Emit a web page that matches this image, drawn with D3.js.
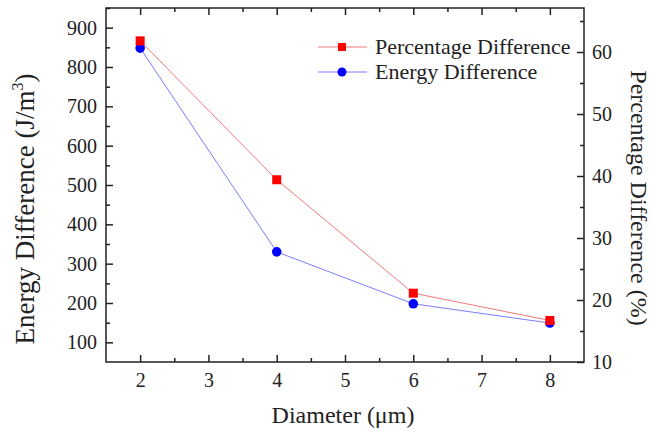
<!DOCTYPE html>
<meta charset="utf-8">
<style>
    body { margin: 0; background: #fff; }
    svg text { font-family: "Times New Roman", "Liberation Serif", Tinos, "DejaVu Serif", serif !important; fill: #222; }
    .tick text { font-size: 20px; }
    .axis path, .axis line { stroke: #222; stroke-width: 1.5px; }
    .title { font-size: 24px; }
    .legend text { font-size: 22px; }
</style>
<svg width="652" height="435" font-family="Liberation Serif"></svg>
<script src="https://d3js.org/d3.v7.min.js"></script>
<script>
    // data
    var diameter = [2, 4, 6, 8];
    var energyDiff = [848, 330, 198, 149];
    var percentDiff = [61.8, 39.4, 21.1, 16.7];

    var xTicks = [2, 3, 4, 5, 6, 7, 8];
    var yTicks = [100, 200, 300, 400, 500, 600, 700, 800, 900];
    var y2Ticks = [10, 20, 30, 40, 50, 60];

    var svg = d3.select("svg");
    var pLeft = 106, pRight = 584, pTop = 8, pBottom = 362;

    var x = d3.scaleLinear().domain([1.5, 8.5]).range([pLeft, pRight]);
    var y = d3.scaleLinear().domain([50, 950]).range([pBottom, pTop]);
    var y2 = d3.scaleLinear().domain([10, 67.1]).range([pBottom, pTop]);
    var fmt = d3.format("d");

    // ticks only, no labels
    function minor(g, axis) {
        g.call(axis).select(".domain").remove();
        g.selectAll("text").remove();
    }
    function noDomain(g) {
        g.select(".domain").remove();
        g.attr("font-family", null).attr("font-size", null);
    }

    // bottom
    svg.append("g").attr("class", "axis").attr("transform", "translate(0," + pBottom + ")")
        .call(d3.axisBottom(x).tickValues(xTicks).tickFormat(fmt).tickSizeInner(-7).tickSizeOuter(0).tickPadding(11))
        .call(noDomain);
    svg.append("g").attr("class", "axis").attr("transform", "translate(0," + pBottom + ")")
        .call(minor, d3.axisBottom(x).tickValues([2.5, 3.5, 4.5, 5.5, 6.5, 7.5]).tickSize(-4));
    // top
    svg.append("g").attr("class", "axis").attr("transform", "translate(0," + pTop + ")")
        .call(minor, d3.axisTop(x).tickValues(xTicks).tickSize(-7));
    svg.append("g").attr("class", "axis").attr("transform", "translate(0," + pTop + ")")
        .call(minor, d3.axisTop(x).tickValues([2.5, 3.5, 4.5, 5.5, 6.5, 7.5]).tickSize(-4));
    // left
    svg.append("g").attr("class", "axis").attr("transform", "translate(" + pLeft + ",0)")
        .call(d3.axisLeft(y).tickValues(yTicks).tickFormat(fmt).tickSizeInner(-7).tickSizeOuter(0).tickPadding(9))
        .call(noDomain);
    svg.append("g").attr("class", "axis").attr("transform", "translate(" + pLeft + ",0)")
        .call(minor, d3.axisLeft(y).tickValues(d3.range(150, 951, 100)).tickSize(-4));
    // right
    svg.append("g").attr("class", "axis").attr("transform", "translate(" + pRight + ",0)")
        .call(d3.axisRight(y2).tickValues(y2Ticks).tickFormat(fmt).tickSizeInner(-7).tickSizeOuter(0).tickPadding(8))
        .call(noDomain);
    svg.append("g").attr("class", "axis").attr("transform", "translate(" + pRight + ",0)")
        .call(minor, d3.axisRight(y2).tickValues([15, 25, 35, 45, 55, 65]).tickSize(-4));

    // frame
    svg.append("rect").attr("x", pLeft).attr("y", pTop)
        .attr("width", pRight - pLeft).attr("height", pBottom - pTop)
        .attr("fill", "none").attr("stroke", "#222").attr("stroke-width", 1.5);

    // titles
    svg.append("text").attr("class", "title").attr("text-anchor", "middle")
        .attr("x", (pLeft + pRight) / 2 - 2).attr("y", 423).text("Diameter (\u03bcm)");
    var lt = svg.append("text").attr("class", "title").attr("text-anchor", "middle")
        .style("font-size", "27px")
        .attr("transform", "translate(34,209) rotate(-90)");
    lt.append("tspan").text("Energy Difference (J/m");
    lt.append("tspan").attr("font-size", "16px").attr("dy", "-11").text("3");
    lt.append("tspan").attr("dy", "11").text(")");
    svg.append("text").attr("class", "title").attr("text-anchor", "middle")
        .attr("transform", "translate(631,198) rotate(90)").text("Percentage Difference (%)");

    // series
    var lineE = d3.line().x(function (d, i) { return x(diameter[i]); }).y(function (d) { return y(d); });
    var lineP = d3.line().x(function (d, i) { return x(diameter[i]); }).y(function (d) { return y2(d); });

    svg.append("path").datum(energyDiff).attr("d", lineE)
        .attr("fill", "none").attr("stroke", "#7b7bff").attr("stroke-width", 1);
    svg.append("path").datum(percentDiff).attr("d", lineP)
        .attr("fill", "none").attr("stroke", "#f07a7a").attr("stroke-width", 1);

    svg.selectAll(".ecirc").data(energyDiff).enter().append("circle")
        .attr("cx", function (d, i) { return x(diameter[i]); })
        .attr("cy", function (d) { return y(d); })
        .attr("r", 4.8).attr("fill", "#0000ff");
    svg.selectAll(".psq").data(percentDiff).enter().append("rect")
        .attr("x", function (d, i) { return x(diameter[i]) - 4.5; })
        .attr("y", function (d) { return y2(d) - 4.5; })
        .attr("width", 9).attr("height", 9).attr("fill", "#ff0000");

    // legend
    var lg = svg.append("g").attr("class", "legend");
    var items = [
        { name: "Percentage Difference", line: "#f07a7a", fill: "#ff0000", shape: "square" },
        { name: "Energy Difference", line: "#7b7bff", fill: "#0000ff", shape: "circle" }
    ];
    items.forEach(function (it, i) {
        var cy = 47 + i * 25;
        lg.append("line").attr("x1", 318).attr("x2", 367).attr("y1", cy).attr("y2", cy)
            .attr("stroke", it.line).attr("stroke-width", 1);
        if (it.shape === "square") {
            lg.append("rect").attr("x", 338).attr("y", cy - 4).attr("width", 8).attr("height", 8).attr("fill", it.fill);
        } else {
            lg.append("circle").attr("cx", 342).attr("cy", cy).attr("r", 4.5).attr("fill", it.fill);
        }
        lg.append("text").attr("x", 375).attr("y", cy + 7).text(it.name);
    });
</script>
